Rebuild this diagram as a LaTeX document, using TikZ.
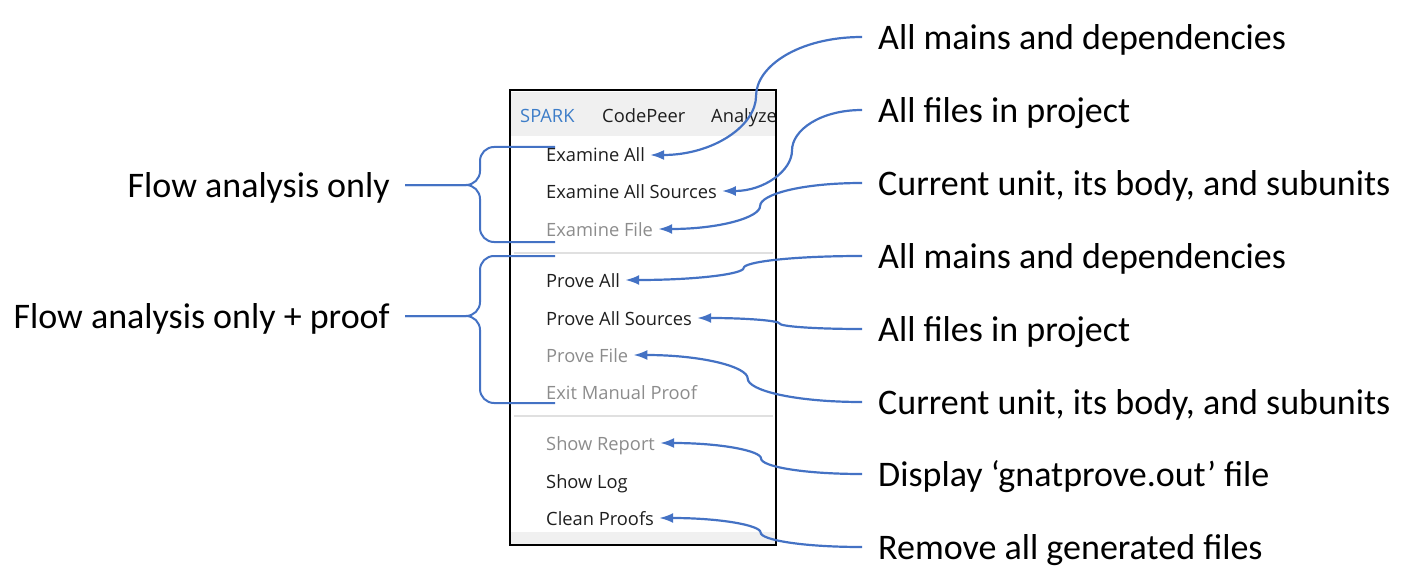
\documentclass[tikz,border=0pt]{standalone}
\usepackage{fontspec}
\setmainfont{Carlito}
\newfontfamily\menufont{Open Sans}
\usetikzlibrary{positioning, arrows.meta, calc}
\definecolor{linkblue}{RGB}{68,114,196}
\definecolor{sparkblue}{RGB}{61,125,200}
\definecolor{dimgrey}{RGB}{140,140,140}
\definecolor{itemblack}{RGB}{30,30,30}
\definecolor{bandgrey}{RGB}{240,240,240}
\definecolor{sepgrey}{RGB}{224,224,224}
\tikzset{
    note/.style={
           inner xsep=16pt, inner ysep=0pt,
           text height=32pt, text depth=7pt,
           font=\fontsize{36}{43}\selectfont,
           anchor=west,
           },
    side/.style={
           note, inner xsep=15pt, anchor=east,
           },
    entry/.style={
           inner xsep=5pt, inner ysep=0pt,
           text height=17pt, text depth=3pt,
           font=\menufont\fontsize{18.3}{22}\selectfont,
           text=itemblack, anchor=west,
           },
    bar/.style={
           entry, inner xsep=0pt,
           },
    frame/.style={
           draw=black, line width=2.6pt,
           minimum width=266pt, minimum height=455pt,
           inner sep=0pt,
           },
    sepline/.style={draw=sepgrey, line width=1.5pt},
    brace/.style={draw=linkblue, line width=2pt, rounded corners=14pt},
    hook/.style={to path={
           let \p1=(\tikztostart), \p2=(\tikztotarget),
               \p3=($(\p1)!0.5!(\p2)$) in
           .. controls ({0.4*\x1+0.6*\x3},\y1) and (\x3,{0.5*\y1+0.5*\y3}) .. (\p3)
           .. controls (\x3,{0.5*\y2+0.5*\y3}) and ({0.4*\x2+0.6*\x3},\y2) .. (\p2)
           \tikztonodes}},
    link/.style={draw=linkblue, line width=2.2pt, ->, hook},
}

\begin{document}
\begin{tikzpicture}[x=1pt, y=-1pt, >={Latex[length=14pt,width=10pt]}]
  \useasboundingbox (0,0) rectangle (1420,588);

  % menu background
  \fill[bandgrey] (511,92) rectangle (775,136);
  \fill[bandgrey] (511,532) rectangle (775,544);
  \draw[sepline] (514,253) -- (773,253);
  \draw[sepline] (514,416) -- (773,416);

  % menu bar
  \begin{scope}
    \clip (511,91) rectangle (775,544);
    \node[bar, text=sparkblue] (spark)    at (520,116) {SPARK};
    \node[bar]                 (codepeer) at (602,116) {CodePeer};
    \node[bar]                 (analyze)  at (711,116) {Analyze};
  \end{scope}

  % menu entries
  \node[entry]                                               (exall)   at (541,155) {Examine All};
  \node[entry, below=36pt of exall.west, anchor=west]                  (exsrc)   {Examine All Sources};
  \node[entry, text=dimgrey, below=38pt of exsrc.west, anchor=west]    (exfile)  {Examine File};
  \node[entry, below=51pt of exfile.west, anchor=west]                 (prall)   {Prove All};
  \node[entry, below=38pt of prall.west, anchor=west]                  (prsrc)   {Prove All Sources};
  \node[entry, text=dimgrey, below=37pt of prsrc.west, anchor=west]    (prfile)  {Prove File};
  \node[entry, text=dimgrey, below=37pt of prfile.west, anchor=west]   (exitman) {Exit Manual Proof};
  \node[entry, text=dimgrey, below=51pt of exitman.west, anchor=west]  (showrep) {Show Report};
  \node[entry, below=38pt of showrep.west, anchor=west]                (showlog) {Show Log};
  \node[entry, below=37pt of showlog.west, anchor=west]                (clean)   {Clean Proofs};

  \node[frame] (menu) at (643,317.5) {};

  % what each entry covers
  \node[note]                                         (mainsA) at (862,37) {All mains and dependencies};
  \node[note, below=73pt of mainsA.west, anchor=west] (filesA) {All files in project};
  \node[note, below=73pt of filesA.west, anchor=west] (unitA)  {Current unit, its body, and subunits};
  \node[note, below=73pt of unitA.west, anchor=west]  (mainsB) {All mains and dependencies};
  \node[note, below=73pt of mainsB.west, anchor=west] (filesB) {All files in project};
  \node[note, below=73pt of filesB.west, anchor=west] (unitB)  {Current unit, its body, and subunits};
  \node[note, below=72pt of unitB.west, anchor=west]  (report) {Display ‘gnatprove.out’ file};
  \node[note, below=73pt of report.west, anchor=west] (remove) {Remove all generated files};

  \draw[link] (mainsA.west) to (exall.east);
  \draw[link] (filesA.west) to (exsrc.east);
  \draw[link] (unitA.west)  to (exfile.east);
  \draw[link] (mainsB.west) to (prall.east);
  \draw[link] (filesB.west) to (prsrc.east);
  \draw[link] (unitB.west)  to (prfile.east);
  \draw[link] (report.west) to (showrep.east);
  \draw[link] (remove.west) to (clean.east);

  % groups on the left
  \node[side]                                          (flowonly)  at (405,185) {Flow analysis only};
  \node[side, below=131pt of flowonly.east, anchor=east] (flowproof) {Flow analysis only + proof};

  \coordinate (exTop) at (555,147);
  \coordinate (exBot) at (555,242);
  \coordinate (prTop) at (555,256);
  \coordinate (prBot) at (555,403);

  \draw[brace] (exTop) -| ([xshift=75pt]flowonly.east) -- (flowonly.east);
  \draw[brace] (exBot) -| ([xshift=75pt]flowonly.east) -- (flowonly.east);
  \draw[brace] (prTop) -| ([xshift=75pt]flowproof.east) -- (flowproof.east);
  \draw[brace] (prBot) -| ([xshift=75pt]flowproof.east) -- (flowproof.east);
\end{tikzpicture}
\end{document}
